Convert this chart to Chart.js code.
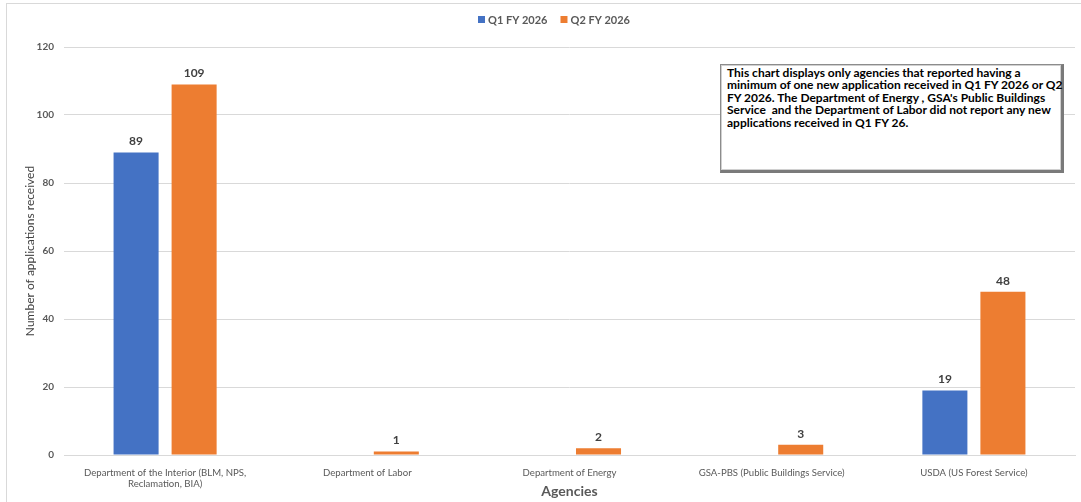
<!DOCTYPE html>
<html>
<head>
<meta charset="utf-8">
<script src="https://cdn.jsdelivr.net/npm/chart.js@4.4.1/dist/chart.umd.min.js"></script>
<style>
  html, body { margin: 0; padding: 0; background: #fff; }
  #wrap { position: relative; width: 1081px; height: 502px; overflow: hidden; }
  #note {
    position: absolute; left: 720px; top: 64px; width: 344px; height: 109px;
    box-sizing: border-box; background: #fff;
    border-top: 1px solid #8c8c8c; border-left: 1px solid #8c8c8c;
    border-right: 3px solid #7a7a7a; border-bottom: 3px solid #7a7a7a;
    box-shadow: inset 1px 1px 0 #d0d0d0, inset -1px -1px 0 #d0d0d0;
    padding: 2px 0 0 6px;
    font: bold 12px Lato, sans-serif; line-height: 12.4px; color: #000;
    white-space: nowrap;
  }
</style>
</head>
<body>
<div id="wrap">
  <canvas id="chart" width="1081" height="502"></canvas>
  <div id="note">This chart displays only agencies that reported having a<br>minimum of one new application received in Q1 FY 2026 or Q2<br>FY 2026. The Department of Energy , GSA's Public Buildings<br>Service&nbsp; and the Department of Labor did not report any new<br>applications received in Q1 FY 26.</div>
</div>
<script>
const agencies = [
  ['Department of the Interior (BLM, NPS,', 'Reclamation, BIA)'],
  'Department of Labor',
  'Department of Energy',
  'GSA-PBS (Public Buildings Service)',
  'USDA (US Forest Service)'
];
const q1Values = [89, 0, 0, 0, 19];
const q2Values = [109, 1, 2, 3, 48];
const seriesNames = ['Q1 FY 2026', 'Q2 FY 2026'];
const seriesColors = ['#4472C4', '#ED7D31'];

const FONT = 'Lato, sans-serif';

// light frame around the chart, like the Excel chart area
const framePlugin = {
  id: 'frame',
  beforeDraw(chart) {
    const c = chart.ctx;
    c.save();
    c.strokeStyle = '#d9d9d9';
    c.lineWidth = 1;
    c.strokeRect(6.5, 3.5, 1100, 520);
    c.restore();
  }
};

// value labels above bars (zeros are left out)
const valueLabels = {
  id: 'valueLabels',
  afterDatasetsDraw(chart) {
    const c = chart.ctx;
    c.save();
    c.font = 'bold 12px ' + FONT;
    c.fillStyle = '#404040';
    c.textAlign = 'center';
    c.textBaseline = 'bottom';
    chart.data.datasets.forEach((ds, i) => {
      chart.getDatasetMeta(i).data.forEach((bar, j) => {
        const v = ds.data[j];
        if (!v) return;
        c.fillText(String(v), bar.x, bar.y - 5);
      });
    });
    c.restore();
  }
};

// legend drawn at the top centre
const topLegend = {
  id: 'topLegend',
  afterDraw(chart) {
    const c = chart.ctx;
    c.save();
    c.font = 'bold 11px ' + FONT;
    c.textBaseline = 'middle';
    let x = 478;
    chart.data.datasets.forEach(ds => {
      c.fillStyle = ds.backgroundColor;
      c.fillRect(x, 16, 7, 7);
      c.fillStyle = '#595959';
      c.fillText(ds.label, x + 10, 20);
      x += 10 + c.measureText(ds.label).width + 13;
    });
    c.restore();
  }
};

new Chart(document.getElementById('chart'), {
  type: 'bar',
  data: {
    labels: agencies,
    datasets: [
      { label: seriesNames[0], data: q1Values, backgroundColor: seriesColors[0] },
      { label: seriesNames[1], data: q2Values, backgroundColor: seriesColors[1] }
    ]
  },
  options: {
    responsive: false,
    animation: false,
    events: [],
    layout: { padding: { left: 8, right: 6, top: 47, bottom: 0 } },
    datasets: {
      bar: { categoryPercentage: 0.574, barPercentage: 0.776 }
    },
    plugins: {
      legend: { display: false },
      tooltip: { enabled: false }
    },
    scales: {
      x: {
        grid: { display: false },
        border: { color: '#d9d9d9' },
        ticks: { color: '#595959', font: { family: FONT, size: 9.6 }, padding: 4, maxRotation: 0, autoSkip: false },
        title: { display: true, text: 'Agencies', color: '#595959', font: { family: FONT, size: 14, weight: 'bold' }, padding: { top: 0, bottom: 2 } },
        afterFit(scale) { scale.height = 47; }
      },
      y: {
        min: 0, max: 120,
        ticks: { stepSize: 20, color: '#595959', font: { family: FONT, size: 10, weight: 'bold' }, padding: 10 },
        grid: { color: '#d9d9d9', drawTicks: false },
        border: { display: false },
        title: { display: true, text: 'Number of applications received', color: '#404040', font: { family: FONT, size: 12 }, padding: { top: 15, bottom: 0 } },
        afterFit(scale) { scale.width = 56; }
      }
    }
  },
  plugins: [framePlugin, valueLabels, topLegend]
});
</script>
</body>
</html>
